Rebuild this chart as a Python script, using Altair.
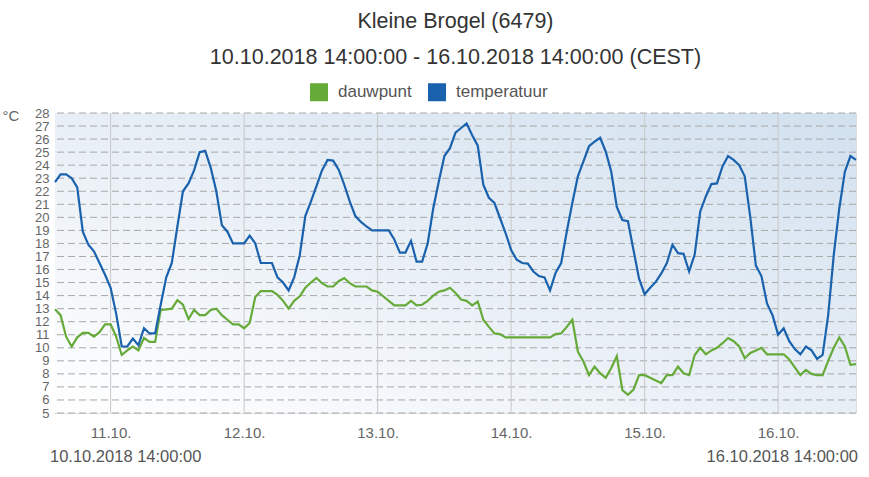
import altair as alt
import pandas as pd

# hourly readings from 10.10.2018 14:00 to 16.10.2018 14:00 (hour index 0..144)
hours = list(range(145))

temperatuur = [
    22.7, 23.3, 23.3, 23.0, 22.3, 18.9, 17.9, 17.4, 16.5, 15.6,
    14.6, 12.6, 10.1, 10.1, 10.7, 10.2, 11.5, 11.1, 11.1, 13.3,
    15.4, 16.5, 19.3, 22.0, 22.6, 23.6, 25.0, 25.1, 23.8, 22.0,
    19.4, 18.9, 18.0, 18.0, 18.0, 18.6, 18.0, 16.5, 16.5, 16.5,
    15.4, 15.0, 14.4, 15.4, 17.1, 20.1, 21.2, 22.4, 23.6, 24.4,
    24.35, 23.65, 22.5, 21.2, 20.1, 19.65, 19.3, 19.0, 19.0, 19.0,
    19.0, 18.3, 17.3, 17.3, 18.2, 16.6, 16.6, 18.0, 20.7, 22.75,
    24.7, 25.3, 26.5, 26.85, 27.2, 26.3, 25.5, 22.5, 21.5, 21.1,
    19.95, 18.8, 17.5, 16.75, 16.5, 16.45, 15.85, 15.5, 15.4, 14.4,
    15.75, 16.5, 18.9, 21.1, 23.15, 24.3, 25.45, 25.8, 26.1, 25.05,
    23.5, 20.8, 19.8, 19.7, 17.5, 15.3, 14.1, 14.6, 15.05, 15.7,
    16.5, 17.9, 17.25, 17.2, 15.85, 17.15, 20.45, 21.6, 22.55, 22.6,
    23.9, 24.7, 24.4, 24.0, 23.15, 20.0, 16.3, 15.5, 13.4, 12.5,
    11.0, 11.5, 10.5, 9.9, 9.5, 10.1, 9.8, 9.15, 9.45, 12.5,
    17.1, 20.7, 23.5, 24.7, 24.4,
]

dauwpunt = [
    12.95, 12.5, 10.85, 10.1, 10.8, 11.15, 11.15, 10.85, 11.2, 11.8,
    11.8, 10.85, 9.45, 9.8, 10.1, 9.8, 10.75, 10.45, 10.45, 12.9,
    12.95, 13.0, 13.65, 13.3, 12.2, 12.9, 12.5, 12.5, 12.9, 13.0,
    12.5, 12.15, 11.8, 11.8, 11.5, 11.9, 13.9, 14.35, 14.35, 14.35,
    14.05, 13.6, 13.0, 13.6, 13.95, 14.6, 15.0, 15.35, 14.95, 14.7,
    14.7, 15.1, 15.35, 14.95, 14.7, 14.7, 14.7, 14.4, 14.3, 13.95,
    13.6, 13.25, 13.25, 13.25, 13.6, 13.25, 13.3, 13.6, 14.0, 14.3,
    14.4, 14.6, 14.2, 13.7, 13.6, 13.25, 13.55, 12.15, 11.6, 11.1,
    11.05, 10.8, 10.8, 10.8, 10.8, 10.8, 10.8, 10.8, 10.8, 10.8,
    11.05, 11.1, 11.6, 12.15, 9.7, 8.95, 7.9, 8.55, 8.05, 7.7,
    8.45, 9.35, 6.75, 6.4, 6.8, 7.9, 7.9, 7.7, 7.5, 7.3,
    7.9, 7.9, 8.55, 8.05, 7.9, 9.45, 10.0, 9.5, 9.8, 10.0,
    10.35, 10.75, 10.5, 10.1, 9.2, 9.6, 9.8, 10.0, 9.5, 9.5,
    9.5, 9.5, 9.1, 8.5, 7.9, 8.3, 8.0, 7.9, 7.9, 9.0,
    10.0, 10.8, 10.1, 8.7, 8.75,
]

series_names = ["dauwpunt", "temperatuur"]
series_colors = ["#66aa3a", "#1a62ad"]

day_hours = [10, 34, 58, 82, 106, 130]
day_labels = ["11.10.", "12.10.", "13.10.", "14.10.", "15.10.", "16.10."]
y_ticks = list(range(5, 29))

title_text = "Kleine Brogel (6479)"
subtitle_text = "10.10.2018 14:00:00 - 16.10.2018 14:00:00 (CEST)"
start_label = "10.10.2018 14:00:00"
end_label = "16.10.2018 14:00:00"

FONT = "Liberation Sans"
W, H = 801, 300

df = pd.DataFrame({
    "uur": hours * 2,
    "waarde": dauwpunt + temperatuur,
    "reeks": ["dauwpunt"] * len(hours) + ["temperatuur"] * len(hours),
})

x_scale = alt.Scale(domain=[0, 144], nice=False, zero=False)
y_scale = alt.Scale(domain=[5, 28], nice=False, zero=False)

label_expr = "{" + ",".join(f"'{h}':'{l}'" for h, l in zip(day_hours, day_labels)) + "}[datum.value]"

x_axis = alt.Axis(values=day_hours, labelExpr=label_expr, title=None,
                  grid=False, ticks=False, domain=False,
                  labelFont=FONT, labelFontSize=15, labelColor="#666",
                  labelPadding=12, labelOverlap=False)
y_axis = alt.Axis(values=y_ticks, grid=False, ticks=False,
                  domainColor="#999", labelOverlap=False,
                  labelFont=FONT, labelFontSize=13, labelColor="#666",
                  labelPadding=6, labelBound=False, labelFlush=False,
                  title="°C", titleAngle=0, titleX=-53, titleY=2,
                  titleAlign="left", titleBaseline="middle",
                  titleFont=FONT, titleFontSize=15,
                  titleFontWeight="normal", titleColor="#666")

bg = alt.Chart(pd.DataFrame({"a": [0]})).mark_rect(
    color=alt.LinearGradient(
        gradient="linear",
        stops=[alt.GradientStop(color="#ffffff", offset=0),
               alt.GradientStop(color="#eaf0f7", offset=0.45),
               alt.GradientStop(color="#d2e1ef", offset=1)],
        x1=0, y1=1, x2=1, y2=0,
    )
).encode(
    x=alt.X(datum=0, scale=x_scale, axis=x_axis), x2=alt.X2(datum=144),
    y=alt.Y(datum=5, scale=y_scale, axis=y_axis), y2=alt.Y2(datum=28),
)

hgrid = alt.Chart(pd.DataFrame({"v": y_ticks})).mark_rule(
    color="#a8a8a8", strokeDash=[7, 4], strokeWidth=1
).encode(y=alt.Y("v:Q", scale=y_scale, axis=y_axis))

vgrid = alt.Chart(pd.DataFrame({"h": day_hours})).mark_rule(
    color="#c8c8c8", strokeWidth=1
).encode(x=alt.X("h:Q", scale=x_scale, axis=x_axis))

lines = alt.Chart(df).mark_line(strokeWidth=2.2).encode(
    x=alt.X("uur:Q", scale=x_scale, axis=x_axis),
    y=alt.Y("waarde:Q", scale=y_scale, axis=y_axis),
    color=alt.Color("reeks:N",
                    scale=alt.Scale(domain=series_names, range=series_colors),
                    legend=alt.Legend(title=None, orient="none", direction="horizontal",
                                      legendX=255, legendY=-30,
                                      symbolType="square", symbolSize=81,
                                      symbolStrokeWidth=9, labelOffset=10,
                                      columnPadding=2,
                                      labelFont=FONT, labelFontSize=17,
                                      labelColor="#555")),
    detail="reeks:N",
)

foot = alt.Chart(pd.DataFrame({"t": [start_label]})).mark_text(
    font=FONT, fontSize=16.5, color="#555", align="left", baseline="middle"
).encode(text="t:N", x=alt.value(-5), y=alt.value(344))

foot2 = alt.Chart(pd.DataFrame({"t": [end_label]})).mark_text(
    font=FONT, fontSize=16.5, color="#555", align="right", baseline="middle"
).encode(text="t:N", x=alt.value(803), y=alt.value(344))

chart = alt.layer(bg, hgrid, vgrid, lines, foot, foot2).properties(
    width=W, height=H,
    title=alt.TitleParams(text=title_text, subtitle=subtitle_text,
                          font=FONT, subtitleFont=FONT,
                          fontSize=21.5, subtitleFontSize=21.5,
                          fontWeight="normal", color="#333", subtitleColor="#333",
                          anchor="middle", frame="group", offset=15,
                          subtitlePadding=14),
    padding={"left": 55, "top": 113, "right": 13, "bottom": 64},
    autosize=alt.AutoSizeParams(type="none"),
).configure_view(stroke=None).configure(background="white")

chart.save("out.html", embed_options={"renderer": "svg", "actions": False})
